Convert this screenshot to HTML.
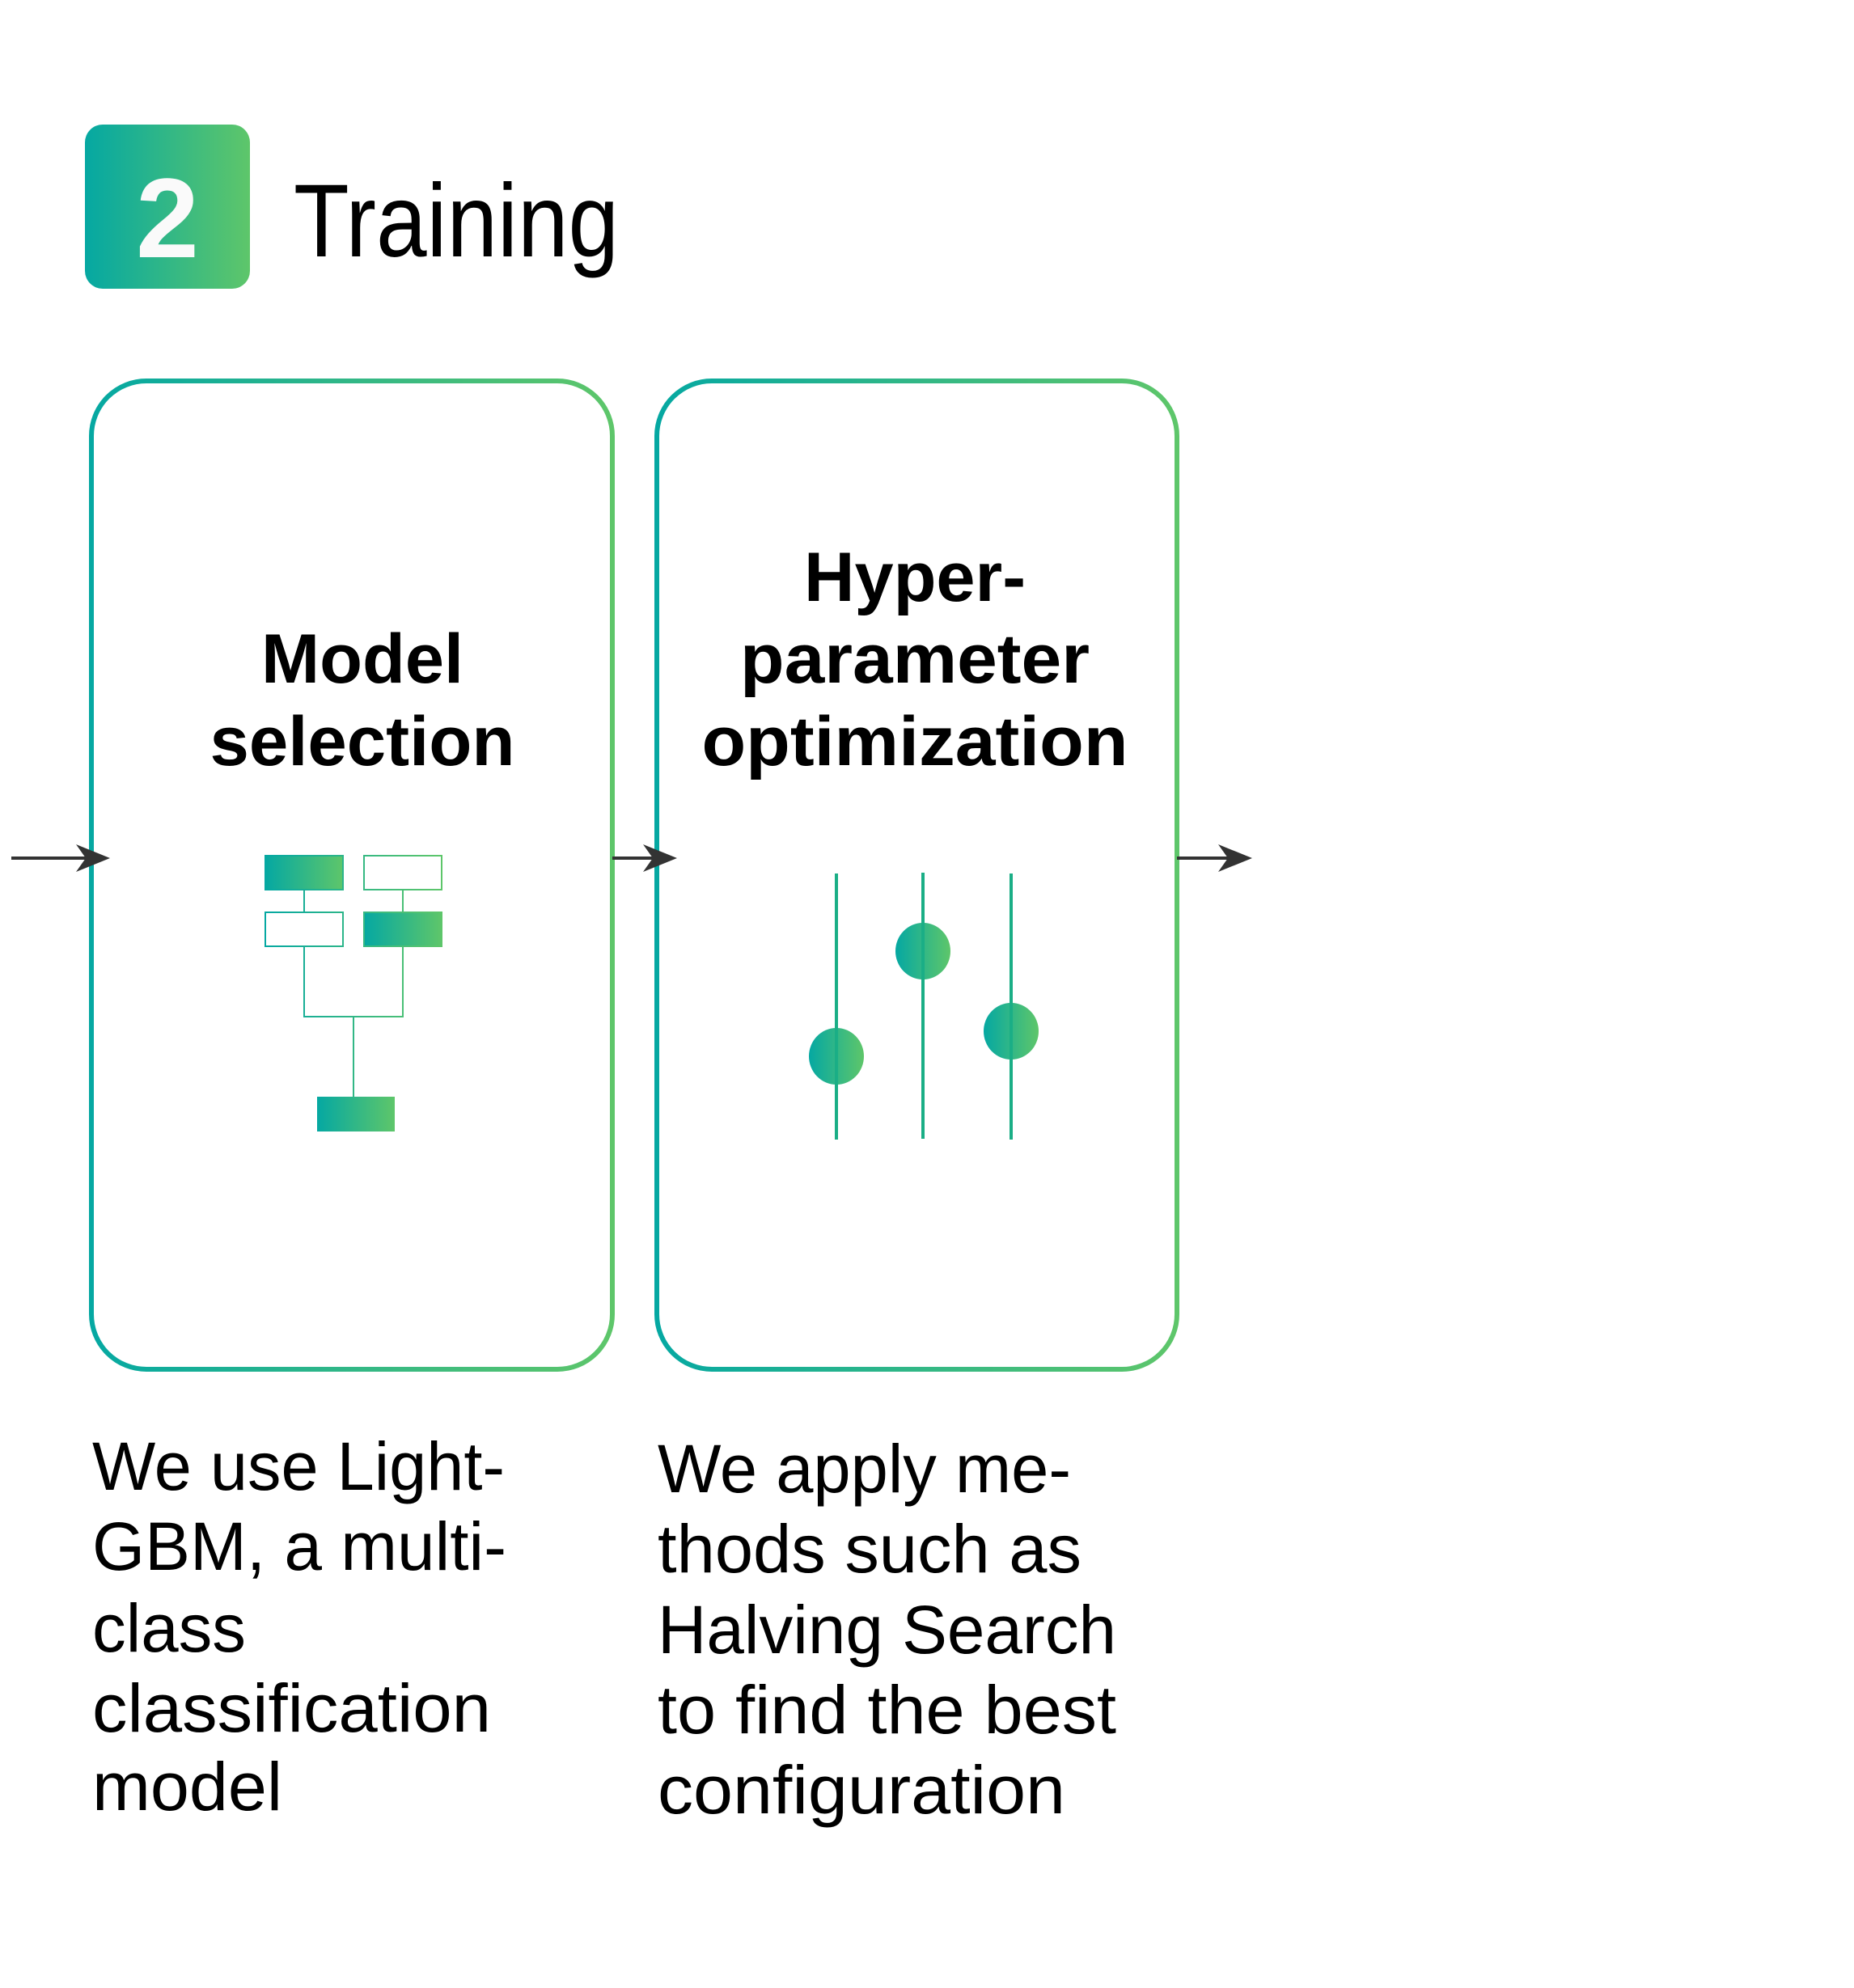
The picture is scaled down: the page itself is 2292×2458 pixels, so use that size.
<!DOCTYPE html>
<html><head><meta charset="utf-8"><style>html,body{margin:0;padding:0;background:#fff}svg{display:block}</style></head>
<body>
<svg width="2292" height="2458" viewBox="0 0 2292 2458" xmlns="http://www.w3.org/2000/svg">
<defs>
<linearGradient id="g" x1="0" y1="0" x2="1" y2="0"><stop offset="0" stop-color="#05a8a2"/><stop offset="1" stop-color="#5ec66a"/></linearGradient>
<linearGradient id="gb1" gradientUnits="userSpaceOnUse" x1="111" y1="0" x2="758" y2="0"><stop offset="0" stop-color="#05a8a2"/><stop offset="1" stop-color="#5ec66a"/></linearGradient>
<linearGradient id="gb2" gradientUnits="userSpaceOnUse" x1="810" y1="0" x2="1455" y2="0"><stop offset="0" stop-color="#05a8a2"/><stop offset="1" stop-color="#5ec66a"/></linearGradient>
<linearGradient id="gt" gradientUnits="userSpaceOnUse" x1="328" y1="0" x2="547" y2="0"><stop offset="0" stop-color="#05a8a2"/><stop offset="1" stop-color="#5ec66a"/></linearGradient>
</defs>
<rect width="2292" height="2458" fill="#fff"/>
<rect x="105" y="154" width="204" height="203" rx="22" fill="url(#g)"/>
<text x="207" y="318" font-family="Liberation Sans, sans-serif" font-weight="bold" font-size="140" fill="#fafafa" text-anchor="middle">2</text>
<text x="363" y="317" font-family="Liberation Sans, sans-serif" font-size="128" fill="#000" textLength="402" lengthAdjust="spacingAndGlyphs">Training</text>
<rect x="113" y="471" width="644" height="1222" rx="68" fill="none" stroke="url(#gb1)" stroke-width="6"/>
<rect x="812" y="471" width="643" height="1222" rx="68" fill="none" stroke="url(#gb2)" stroke-width="6"/>
<g stroke="#333" stroke-width="4" fill="#333">
<line x1="14" y1="1061" x2="110" y2="1061"/>
<line x1="757" y1="1061" x2="810" y2="1061"/>
<line x1="1455" y1="1061" x2="1522" y2="1061"/>
</g>
<g fill="#333">
<path d="M94 1044 L136 1061 L94 1078 L106 1061Z"/>
<path d="M795 1044 L837 1061 L795 1078 L807 1061Z"/>
<path d="M1506 1044 L1548 1061 L1506 1078 L1518 1061Z"/>
</g>
<g font-family="Liberation Sans, sans-serif" font-weight="bold" font-size="86" fill="#000" text-anchor="middle">
<text x="448" y="844" textLength="250" lengthAdjust="spacingAndGlyphs">Model</text>
<text x="448" y="946" textLength="377" lengthAdjust="spacingAndGlyphs">selection</text>
<text x="1131" y="743" textLength="274" lengthAdjust="spacingAndGlyphs">Hyper-</text>
<text x="1131" y="844" textLength="432" lengthAdjust="spacingAndGlyphs">parameter</text>
<text x="1131" y="946" textLength="527" lengthAdjust="spacingAndGlyphs">optimization</text>
</g>
<g stroke="url(#gt)" stroke-width="2" fill="none">
<rect x="328" y="1058" width="96" height="42" fill="url(#g)"/>
<rect x="450" y="1058" width="96" height="42"/>
<rect x="328" y="1128" width="96" height="42"/>
<rect x="450" y="1128" width="96" height="42" fill="url(#g)"/>
<line x1="376" y1="1100" x2="376" y2="1128"/>
<line x1="498" y1="1100" x2="498" y2="1128"/>
<path d="M376 1170 V1257 H498 V1170"/>
<line x1="437" y1="1257" x2="437" y2="1356"/>
</g>
<rect x="392" y="1356" width="96" height="43" fill="url(#g)"/>
<ellipse cx="1034" cy="1306" rx="34" ry="35" fill="url(#g)"/>
<ellipse cx="1141" cy="1176" rx="34" ry="35" fill="url(#g)"/>
<ellipse cx="1250" cy="1275" rx="34" ry="35" fill="url(#g)"/>
<g stroke="#1aae86" stroke-width="4">
<line x1="1034" y1="1080" x2="1034" y2="1409"/>
<line x1="1141" y1="1079" x2="1141" y2="1408"/>
<line x1="1250" y1="1080" x2="1250" y2="1409"/>
</g>
<g font-family="Liberation Sans, sans-serif" font-size="84" fill="#000">
<text x="114" y="1842" textLength="510" lengthAdjust="spacingAndGlyphs">We use Light-</text>
<text x="114" y="1941" textLength="512" lengthAdjust="spacingAndGlyphs">GBM, a multi-</text>
<text x="114" y="2042" textLength="190" lengthAdjust="spacingAndGlyphs">class</text>
<text x="114" y="2141" textLength="493" lengthAdjust="spacingAndGlyphs">classification</text>
<text x="114" y="2238" textLength="235" lengthAdjust="spacingAndGlyphs">model</text>
<text x="813" y="1845" textLength="511" lengthAdjust="spacingAndGlyphs">We apply me-</text>
<text x="813" y="1944" textLength="524" lengthAdjust="spacingAndGlyphs">thods such as</text>
<text x="813" y="2044" textLength="567" lengthAdjust="spacingAndGlyphs">Halving Search</text>
<text x="813" y="2143" textLength="567" lengthAdjust="spacingAndGlyphs">to find the best</text>
<text x="813" y="2242" textLength="504" lengthAdjust="spacingAndGlyphs">configuration</text>
</g>
</svg>
</body></html>
